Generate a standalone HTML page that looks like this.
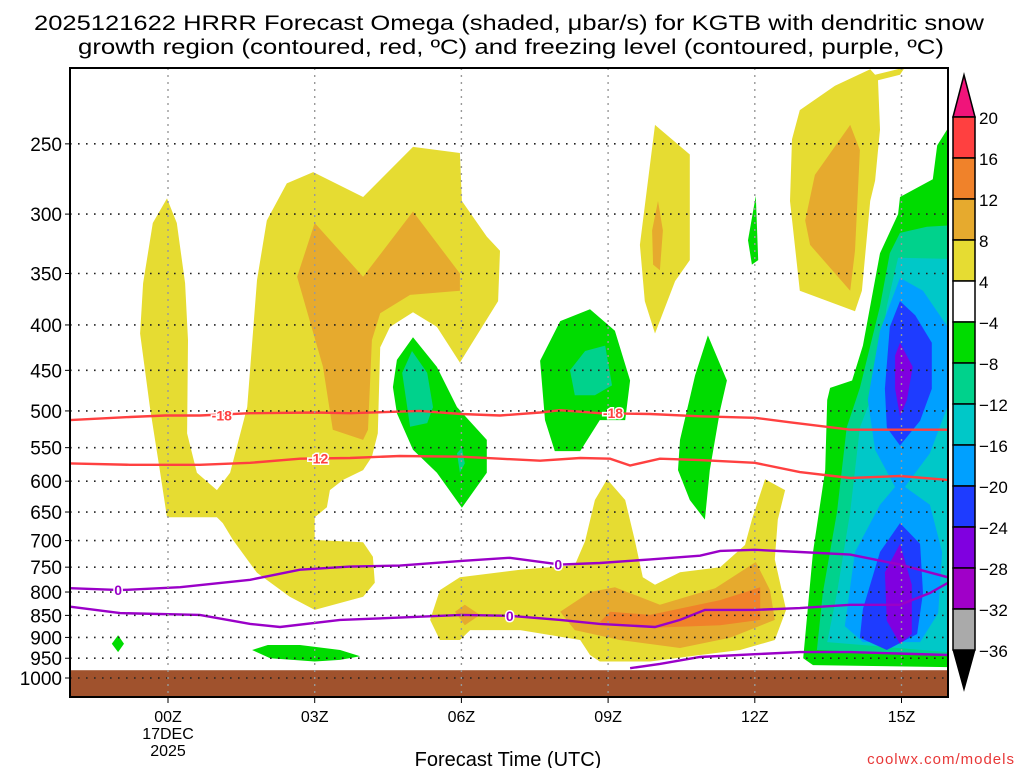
<!DOCTYPE html>
<html><head><meta charset="utf-8"><style>
html,body{margin:0;padding:0;background:#fff;}
svg{display:block;font-family:"Liberation Sans",sans-serif;}
</style></head><body>
<svg id="chart" width="1024" height="768" viewBox="0 0 1024 768" xmlns="http://www.w3.org/2000/svg">
<text x="509" y="30" font-size="21" text-anchor="middle" textLength="950" lengthAdjust="spacingAndGlyphs">2025121622 HRRR Forecast Omega (shaded, μbar/s) for KGTB with dendritic snow</text>
<text x="511" y="54" font-size="21" text-anchor="middle" textLength="866" lengthAdjust="spacingAndGlyphs">growth region (contoured, red, ºC) and freezing level (contoured, purple, ºC)</text>
<g id="plot"></g>
<text x="508" y="766" font-size="20" text-anchor="middle">Forecast Time (UTC)</text>
<text x="1015" y="764" font-size="15" fill="#e83838" text-anchor="end" letter-spacing="1">coolwx.com/models</text>
</svg>
<script>
const NS='http://www.w3.org/2000/svg';
const hourTicks=[0,3,6,9,12,15];
const hourLabels=['00Z','03Z','06Z','09Z','12Z','15Z'];
const pressureTicks=[250,300,350,400,450,500,550,600,650,700,750,800,850,900,950,1000];
const cbLevels=[20,16,12,8,4,-4,-8,-12,-16,-20,-24,-28,-32,-36];
const cbColors=['#ff4040','#f0822a','#e6aa2e','#e6dc32','#ffffff','#00dc00','#00d28c','#00c8c8','#00a0ff','#1e3cff','#8000e0','#a000c8','#aaaaaa'];
// shaded omega regions: flat [hour, pressure] lists
const yellowMain=[-0.57,409,-0.51,359,-0.31,307,-0.02,288,0.18,307,0.35,359,0.41,416,0.39,530,0.59,587,1.0,614,1.27,587,1.62,495,1.82,356,2.02,305,2.43,277,2.97,269,3.99,287,5.01,252,5.97,256,6.01,290,6.52,318,6.79,330,6.75,376,5.97,441,5.5,402,5.01,387,4.54,402,4.34,424,4.29,530,4.17,563,3.99,583,3.58,598,3.31,614,3.25,642,3.0,659,3.0,699,3.99,703,4.19,730,4.23,781,3.99,810,3.0,838,2.49,810,1.82,761,1.33,699,1.12,669,1.0,659,-0.02,659,-0.16,587,-0.37,495];
const orangeMain=[3.0,307,3.99,353,5.01,298,5.97,350,5.97,366,4.95,370,4.34,388,4.17,416,4.09,525,3.99,539,3.37,525,3.17,446,2.64,353];
const green1=[5.01,413,5.5,446,5.91,495,6.52,539,6.52,587,6.01,643,5.5,587,5.01,553,4.68,503,4.6,470,4.68,438];
const teal1=[4.99,428,5.3,453,5.42,495,5.3,516,4.95,521,4.79,453];
const teal1b=[5.91,558,6.01,550,6.07,573,5.97,587];
const green2=[7.61,439,8.02,396,8.63,384,9.14,406,9.45,462,9.35,512,8.83,512,8.43,555,7.91,555,7.71,512];
const teal2=[8.22,450,8.53,428,8.94,422,9.08,468,8.73,480,8.32,480];
const yellow2=[9.65,325,9.96,238,10.67,257,10.67,338,10.37,357,9.96,409,9.75,376];
const orange2=[9.9,313,10.02,290,10.12,313,10.06,347,9.92,342];
const green3=[11.86,321,12.02,286,12.07,338,11.94,342];
const green4=[10.47,539,10.78,456,11.04,411,11.43,462,11.29,499,11.08,583,10.98,663,10.67,630,10.43,583];
const yellow3=[12.76,247,12.92,229,13.64,215,14.36,206,14.46,209,15.07,205,14.97,209,14.52,212,14.56,241,14.46,275,14.36,290,14.19,366,14.05,386,12.92,366,12.72,290];
const orange3=[13.03,305,13.23,271,13.95,238,14.15,254,14.05,330,13.95,366,13.13,325];
const yellow4=[5.36,860,5.56,796,5.97,770,7.2,755,8.32,746,8.53,701,8.73,630,8.98,597,9.35,630,9.55,701,9.71,770,9.96,785,10.47,760,11.29,750,11.8,708,11.94,663,12.21,597,12.62,614,12.47,663,12.41,735,12.64,838,12.41,906,11.7,930,10.88,942,9.86,958,8.83,958,8.63,942,8.43,906,7.2,883,6.18,883,5.97,906,5.56,906];
const orange4a=[5.87,842,6.07,827,6.38,849,6.07,872];
const orange4b=[8.02,842,8.63,800,9.14,790,10.06,827,11.19,792,12.02,740,12.31,796,12.41,860,11.49,901,10.47,925,9.24,906,8.32,883];
const orange4c=[8.83,865,9.04,842,9.86,849,11.29,817,12.11,790,12.11,860,11.29,872,9.86,878];
const green5=[1.72,930,2.04,918,2.7,918,3.52,930,3.93,945,3.52,954,3.0,958,2.09,950];
const green6=[-1.15,915,-1.02,895,-0.9,915,-1.02,935];
const greenR=[15.95,240,15.73,251,15.64,274,14.97,287,14.93,300,14.56,332,14.21,422,13.99,462,13.54,471,13.48,486,13.44,583,13.19,721,12.99,950,13.19,967,15.95,972];
const emeraldR=[15.95,309,15.52,310,14.97,315,14.76,332,14.56,381,14.15,471,13.88,522,13.68,650,13.39,802,13.27,930,15.95,944];
const cyanR=[15.95,337,14.93,336,14.7,381,14.46,471,14.15,522,13.95,650,13.68,802,13.48,911,15.95,935];
const blueR=[14.97,354,15.44,366,15.93,401,15.93,496,15.58,558,15.07,609,15.58,638,15.83,721,15.75,845,15.38,911,14.21,911,13.84,874,14.05,721,14.56,638,14.87,609,14.46,553,14.31,486,14.56,406];
const darkBlue1=[14.97,376,15.28,390,15.62,419,15.62,472,15.38,513,14.97,547,14.7,522,14.66,472,14.76,402];
const darkBlue2=[14.97,669,15.38,706,15.44,802,15.32,892,14.7,930,14.15,901,14.21,836,14.56,721];
const purple1=[14.97,419,15.23,446,15.11,486,14.97,507,14.87,472,14.87,433];
const purple2=[14.97,706,15.21,785,15.21,892,14.97,915,14.7,862,14.66,760];
// contour lines
const tempM18Hours=[-2,-0.78,-0.06,0.65,1.68,3.0,3.72,5.15,6.0,6.79,7.61,8.02,8.83,9.86,10.88,12,12.72,13.95,14.97,15.95];
const tempM18Press=[512,508,506,506,503,502,503,500,504,506,502,499,503,504,507,509,515,525,525,525];
const tempM12Hours=[-2,-0.78,0.65,1.68,2.7,3.72,4.74,6.0,6.79,7.61,8.43,9.04,9.45,10.06,10.88,12,12.92,13.95,14.97,15.95];
const tempM12Press=[573,575,575,572,566,565,562,563,566,569,565,566,576,566,568,572,586,595,592,598];
const frzUpperHours=[-2,-0.98,0.25,1.68,2.7,3.72,4.74,6.0,6.99,8.02,8.83,9.86,10.88,11.29,12,12.92,13.95,14.97,15.95];
const frzUpperPress=[792,796,790,775,755,749,747,738,732,745,742,735,728,719,717,721,726,745,770];
const frzLowerHours=[-2,-0.98,0.65,1.68,2.29,3.52,4.74,6.0,6.99,8.02,8.83,9.96,10.47,10.98,12,12.92,13.95,14.97,15.58,15.95];
const frzLowerPress=[831,845,849,869,876,860,855,849,851,860,869,876,860,838,838,834,827,827,802,781];
const frzBottomHours=[9.45,10.06,10.88,12,12.92,13.95,15.95];
const frzBottomPress=[975,964,947,940,935,935,942];
const groundPressure=980;

const X0=70,X1=948,Y0=68,Y1=697;
function xs(h){return 168+h*48.9;}
function ys(p){return 678-385.3*Math.log(1000/p);}
const plot=document.getElementById('plot');
function el(tag,attrs,parent){const e=document.createElementNS(NS,tag);for(const k in attrs)e.setAttribute(k,attrs[k]);(parent||plot).appendChild(e);return e;}
const clip=el('clipPath',{id:'pc'});el('rect',{x:X0,y:Y0,width:X1-X0,height:Y1-Y0},clip);
const shade=el('g',{'clip-path':'url(#pc)'});


function poly(arr,color,name){let pts=[];for(let i=0;i<arr.length;i+=2)pts.push(xs(arr[i]).toFixed(1)+','+ys(arr[i+1]).toFixed(1));
const e=el('polygon',{points:pts.join(' '),fill:color},shade);

}
const Y=cbColors[3],O=cbColors[2],O2=cbColors[1],G=cbColors[5],E=cbColors[6],C=cbColors[7],B=cbColors[8],D=cbColors[9],P=cbColors[10];
poly(yellowMain,Y,'omega-region-yellow-main');poly(orangeMain,O,'omega-region-orange-main');
poly(green1,G,'omega-region-green-06z');poly(teal1,E,'omega-region-teal-06z');poly(teal1b,E,'omega-region-teal-06z-small');
poly(green2,G,'omega-region-green-08z');poly(teal2,E,'omega-region-teal-08z');
poly(yellow2,Y,'omega-region-yellow-10z');poly(orange2,O,'omega-region-orange-10z');
poly(green3,G,'omega-region-green-12z');poly(green4,G,'omega-region-green-11z');
poly(yellow3,Y,'omega-region-yellow-13z');poly(orange3,O,'omega-region-orange-13z');
poly(yellow4,Y,'omega-region-yellow-low');poly(orange4a,O,'omega-region-orange-low-a');poly(orange4b,O,'omega-region-orange-low-b');poly(orange4c,O2,'omega-region-darkorange-low');
poly(green5,G,'omega-region-green-03z');poly(green6,G,'omega-region-green-diamond');
poly(greenR,G,'omega-region-green-right');poly(emeraldR,E,'omega-region-emerald-right');poly(cyanR,C,'omega-region-cyan-right');poly(blueR,B,'omega-region-blue-right');
poly(darkBlue1,D,'omega-region-darkblue-upper');poly(darkBlue2,D,'omega-region-darkblue-lower');poly(purple1,P,'omega-region-purple-upper');poly(purple2,P,'omega-region-purple-lower');
const gr=el('rect',{x:X0,y:ys(groundPressure),width:X1-X0,height:Y1-ys(groundPressure),fill:'#a0522d'},shade);


// grid
pressureTicks.forEach(p=>{const y=ys(p);
const g=el('line',{x1:X0,x2:X1,y1:y,y2:y,stroke:'#222','stroke-width':1.6,'stroke-dasharray':'1.6 6.4'});


const t=el('text',{x:62,y:y+7,'font-size':19,'text-anchor':'end'});t.textContent=p;


el('line',{x1:X0-5,x2:X0,y1:y,y2:y,stroke:'#000'});});
hourTicks.forEach((h,i)=>{const x=xs(h);
const g=el('line',{x1:x,x2:x,y1:Y0,y2:Y1,stroke:'#999','stroke-width':1.4,'stroke-dasharray':'2 5'});


el('line',{x1:x,x2:x,y1:Y1,y2:Y1+6,stroke:'#000'});
const t=el('text',{x:x,y:722,'font-size':16,'text-anchor':'middle'});t.textContent=hourLabels[i];

});
const d1=el('text',{x:xs(0),y:739,'font-size':16,'text-anchor':'middle'});d1.textContent='17DEC';


const d2=el('text',{x:xs(0),y:756,'font-size':16,'text-anchor':'middle'});d2.textContent='2025';


// lines
function line(hs,ps,color,name){const pts=hs.map((h,i)=>xs(h).toFixed(1)+','+ys(ps[i]).toFixed(1)).join(' ');
const e=el('polyline',{points:pts,fill:'none',stroke:color,'stroke-width':2.4},shade);

}
line(tempM18Hours,tempM18Press,'#ff4040','contour-minus18');
line(tempM12Hours,tempM12Press,'#ff4040','contour-minus12');
line(frzUpperHours,frzUpperPress,'#9a00c8','freezing-contour-upper');
line(frzLowerHours,frzLowerPress,'#9a00c8','freezing-contour-lower');
line(frzBottomHours,frzBottomPress,'#9a00c8','freezing-contour-bottom');
function lab(h,p,txt,color,name){const x=xs(h),y=ys(p);
const t=el('text',{x:x,y:y+5,'font-size':14,'font-weight':'bold','text-anchor':'middle',fill:color,stroke:'#fff','stroke-width':3,'paint-order':'stroke'});t.textContent=txt;

}
lab(1.1,506,'-18','#ff4040','contour-label-minus18-a');lab(9.1,503,'-18','#ff4040','contour-label-minus18-b');
lab(3.07,566,'-12','#ff4040','contour-label-minus12');
lab(-1.02,796,'0','#9a00c8','freezing-label-a');lab(7.98,745,'0','#9a00c8','freezing-label-b');lab(6.99,851,'0','#9a00c8','freezing-label-c');
const fr=el('rect',{x:X0,y:Y0,width:X1-X0,height:Y1-Y0,fill:'none',stroke:'#000','stroke-width':2});


// colorbar
const cbx=953,cbw=22,cbTop=117,cbH=41;
const cb=el('g',{});


const tt=el('polygon',{points:`${cbx},${cbTop} ${cbx+cbw/2},75 ${cbx+cbw},${cbTop}`,fill:'#f0147a',stroke:'#000','stroke-width':1.5},cb);


cbColors.forEach((c,i)=>{const r=el('rect',{x:cbx,y:cbTop+i*cbH,width:cbw,height:cbH,fill:c,stroke:'#000','stroke-width':1.5},cb);

});
const bEnd=cbTop+cbColors.length*cbH;
const bt=el('polygon',{points:`${cbx},${bEnd} ${cbx+cbw/2},690 ${cbx+cbw},${bEnd}`,fill:'#000',stroke:'#000'},cb);


cbLevels.forEach((v,i)=>{const t=el('text',{x:979,y:cbTop+i*cbH+7,'font-size':17},cb);t.textContent=v<0?'\u2212'+(-v):v;

});
</script>
</body></html>
